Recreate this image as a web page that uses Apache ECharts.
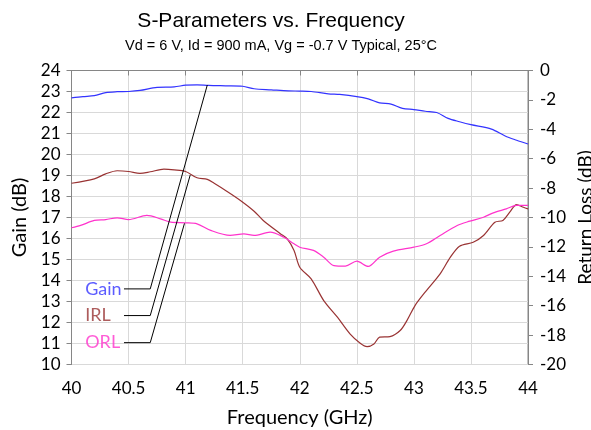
<!DOCTYPE html>
<html>
<head>
<meta charset="utf-8">
<script src="https://cdn.jsdelivr.net/npm/echarts@6/dist/echarts.min.js"></script>
<style>
  html, body { margin: 0; padding: 0; background: #fff; }
  #chart { width: 591px; height: 430px; }
</style>
</head>
<body>
<div id="chart"></div>
<script>
// Gain (left axis, dB)
const gainFreq = [40, 40.1, 40.2, 40.3, 40.4, 40.5, 40.6, 40.75, 40.9, 41.0, 41.1, 41.2, 41.35, 41.5, 41.6, 41.75, 41.9, 42.0, 42.1, 42.25, 42.35, 42.5, 42.6, 42.7, 42.8, 42.9, 43.0, 43.1, 43.2, 43.3, 43.4, 43.5, 43.68, 43.8, 43.9, 44.0]
const gain = [22.70, 22.76, 22.80, 22.95, 22.99, 23.0, 23.05, 23.2, 23.22, 23.3, 23.32, 23.29, 23.27, 23.25, 23.13, 23.08, 23.03, 23.02, 23.0, 22.89, 22.86, 22.76, 22.65, 22.46, 22.4, 22.2, 22.14, 22.06, 22.0, 21.72, 21.56, 21.42, 21.21, 20.88, 20.68, 20.5]

// Input return loss (right axis, dB)
const irlFreq = [40.0, 40.2, 40.3, 40.4, 40.5, 40.6, 40.69, 40.81, 40.9, 41.0, 41.1, 41.19, 41.25, 41.36, 41.48, 41.6, 41.68, 41.83, 41.89, 41.95, 42.0, 42.1, 42.21, 42.33, 42.44, 42.53, 42.59, 42.65, 42.7, 42.79, 42.88, 42.94, 43.01, 43.11, 43.23, 43.32, 43.4, 43.52, 43.61, 43.71, 43.78, 43.84, 43.9, 43.96, 44.0]
const irl = [-7.67, -7.37, -7.03, -6.82, -6.87, -7.0, -6.89, -6.71, -6.76, -6.87, -7.3, -7.41, -7.67, -8.21, -8.84, -9.57, -10.2, -11.1, -11.45, -12.24, -13.38, -14.17, -15.65, -16.78, -17.91, -18.55, -18.78, -18.6, -18.14, -18.1, -17.69, -17.0, -15.99, -14.97, -13.83, -12.7, -11.95, -11.68, -11.22, -10.32, -10.2, -9.64, -9.12, -9.3, -9.41]

// Output return loss (right axis, dB)
const orlFreq = [40.0, 40.08, 40.2, 40.3, 40.4, 40.5, 40.66, 40.78, 40.87, 41.0, 41.1, 41.22, 41.39, 41.51, 41.6, 41.74, 41.86, 41.95, 42.0, 42.12, 42.21, 42.3, 42.4, 42.5, 42.6, 42.7, 42.82, 43.0, 43.11, 43.23, 43.38, 43.49, 43.61, 43.69, 43.81, 43.9, 44.0]
const orl = [-10.7, -10.54, -10.2, -10.14, -10.02, -10.14, -9.86, -10.09, -10.32, -10.36, -10.43, -10.88, -11.22, -11.11, -11.22, -11.0, -11.34, -11.79, -12.02, -12.24, -12.7, -13.27, -13.31, -12.97, -13.33, -12.7, -12.29, -12.02, -11.79, -11.22, -10.54, -10.25, -9.98, -9.7, -9.41, -9.18, -9.18]

// callouts, in (GHz, gain dB): text anchor, line start, elbow, point on curve
const calloutNames = ['Gain', 'IRL', 'ORL']
const calloutColors = ['#3333ff', '#993333', '#ff33cc']
const calloutText = [[40.12, 13.6], [40.12, 12.33], [40.12, 11.04]]
const calloutStart = [[40.46, 13.6], [40.46, 12.33], [40.46, 11.04]]
const calloutElbow = [[40.69, 13.6], [40.69, 12.33], [40.69, 11.04]]
const calloutEnd = [[41.19, 23.31], [41.04, 19.02], [40.99, 16.72]]

const zip = (xs, ys) => xs.map((x, i) => [x, ys[i]])

const FONT = 'Lato'
const GRID_COLOR = '#d9d9d9'
const AXIS_COLOR = '#868686'

const chart = echarts.init(document.getElementById('chart'), null, { renderer: 'canvas' })

// leader lines
const calloutSeries = calloutNames.map((name, i) => ({
  type: 'line',
  yAxisIndex: 0,
  silent: true,
  symbol: 'none',
  z: 5,
  lineStyle: { color: '#000', width: 1 },
  data: [calloutStart[i], calloutElbow[i], calloutEnd[i]]
}))

// callout texts
const calloutLabels = {
  type: 'scatter',
  yAxisIndex: 0,
  silent: true,
  symbolSize: 0,
  z: 6,
  data: calloutNames.map((name, i) => ({
    value: calloutText[i],
    label: {
      show: true,
      position: 'right',
      distance: 0,
      formatter: name,
      color: calloutColors[i],
      fontFamily: FONT,
      fontSize: 18
    }
  }))
}

const option = {
  animation: false,
  title: [
    {
      text: 'S-Parameters vs. Frequency',
      left: 266,
      top: 6,
      textAlign: 'center',
      textStyle: { fontFamily: 'Liberation Sans', fontSize: 21, fontWeight: 'normal', color: '#000' }
    },
    {
      text: 'Vd = 6 V, Id = 900 mA, Vg = -0.7 V Typical, 25°C',
      left: 276,
      top: 33,
      textAlign: 'center',
      textStyle: { fontFamily: 'Liberation Sans', fontSize: 14.5, fontWeight: 'normal', color: '#000' }
    }
  ],
  grid: {
    left: 71.5,
    right: 63,
    top: 70.5,
    bottom: 65.5,
    outerBoundsMode: 'none',
    containLabel: false,
    show: true,
    borderColor: AXIS_COLOR,
    borderWidth: 1
  },
  xAxis: {
    type: 'value',
    min: 40,
    max: 44,
    interval: 0.5,
    name: 'Frequency (GHz)',
    nameLocation: 'middle',
    nameGap: 43,
    nameTextStyle: { fontFamily: FONT, fontSize: 20, color: '#000' },
    axisLine: { show: true, lineStyle: { color: AXIS_COLOR } },
    axisTick: { show: true, inside: false, length: 5, lineStyle: { color: AXIS_COLOR } },
    axisLabel: { fontFamily: FONT, fontSize: 17, color: '#000', margin: 16 },
    splitLine: { show: true, lineStyle: { color: GRID_COLOR, width: 1 } }
  },
  yAxis: [
    {
      type: 'value',
      position: 'left',
      min: 10,
      max: 24,
      interval: 1,
      name: 'Gain (dB)',
      nameLocation: 'middle',
      nameRotate: 90,
      nameGap: 40,
      nameTextStyle: { fontFamily: FONT, fontSize: 20, color: '#000' },
      axisLine: { show: true, lineStyle: { color: AXIS_COLOR } },
      axisTick: { show: true, inside: false, length: 5, lineStyle: { color: AXIS_COLOR } },
      axisLabel: { fontFamily: FONT, fontSize: 17, color: '#000', margin: 11 },
      splitLine: { show: true, lineStyle: { color: GRID_COLOR, width: 1 } }
    },
    {
      type: 'value',
      position: 'right',
      min: -20,
      max: 0,
      interval: 2,
      name: 'Return Loss (dB)',
      nameLocation: 'middle',
      nameRotate: 90,
      nameGap: 48,
      nameMoveOverlap: false,
      nameTextStyle: { fontFamily: FONT, fontSize: 19, color: '#000' },
      axisLine: { show: true, lineStyle: { color: AXIS_COLOR } },
      axisTick: { show: true, inside: false, length: 5, lineStyle: { color: AXIS_COLOR } },
      axisLabel: { fontFamily: FONT, fontSize: 17, color: '#000', margin: 12 },
      splitLine: { show: false }
    }
  ],
  series: [
    {
      name: 'Gain',
      type: 'line',
      yAxisIndex: 0,
      smooth: 0.3,
      symbol: 'none',
      lineStyle: { color: '#3333ff', width: 1.2 },
      data: zip(gainFreq, gain)
    },
    {
      name: 'IRL',
      type: 'line',
      yAxisIndex: 1,
      smooth: 0.3,
      symbol: 'none',
      lineStyle: { color: '#993333', width: 1.2 },
      data: zip(irlFreq, irl)
    },
    {
      name: 'ORL',
      type: 'line',
      yAxisIndex: 1,
      smooth: 0.3,
      symbol: 'none',
      lineStyle: { color: '#ff33cc', width: 1.2 },
      data: zip(orlFreq, orl)
    },
    ...calloutSeries,
    calloutLabels
  ]
}

chart.setOption(option)
</script>
</body>
</html>
